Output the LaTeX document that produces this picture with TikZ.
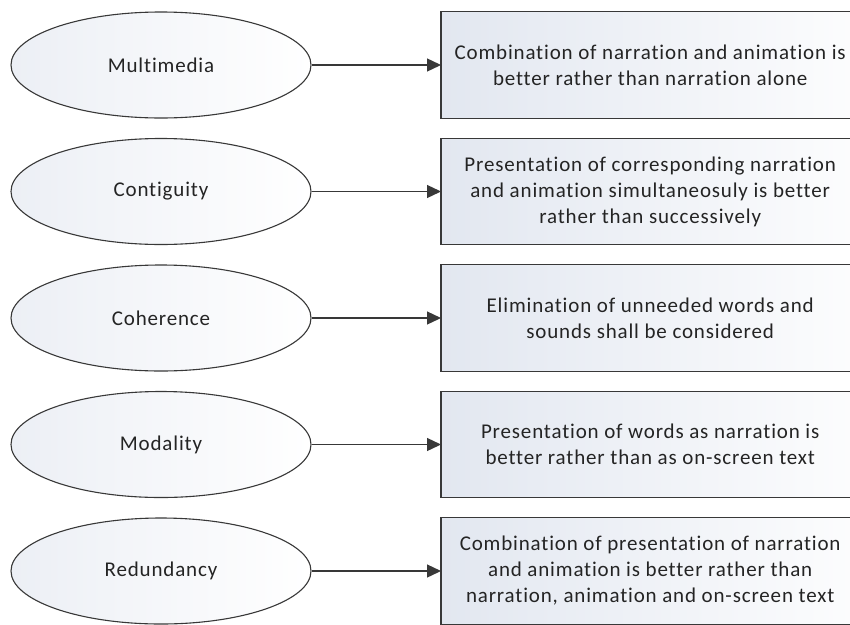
\documentclass[tikz,border=0pt]{standalone}
\usepackage{fontspec}
\setmainfont{Carlito}[LetterSpace=4.0,Ligatures=NoCommon]
\usetikzlibrary{arrows.meta,shapes.geometric,backgrounds}
\definecolor{linegray}{HTML}{383838}
\definecolor{txtgray}{HTML}{242424}
\definecolor{boxleft}{HTML}{E2E7F0}
\definecolor{ellleft}{HTML}{ECEFF5}
\tikzset{
  principle/.style={ellipse, draw=linegray, line width=1.1pt, minimum width=300pt, minimum height=106pt, inner sep=0pt,
    left color=ellleft, right color=white, text=txtgray, font=\fontsize{21}{26}\selectfont},
  descbox/.style={rectangle, minimum width=418pt, minimum height=106pt, inner sep=0pt,
    anchor=west, text=txtgray, align=center, font=\fontsize{21}{26}\selectfont},
  boxframe/.style={draw=linegray, line width=1.2pt, left color=boxleft, right color=white},
  link/.style={draw=linegray, line width=1.3pt, -{Triangle[length=14pt,width=13pt]}}
}
\begin{document}
\begin{tikzpicture}[x=1pt,y=-1pt]
\useasboundingbox (0,0) rectangle (850,624);
\clip (0,0) rectangle (850,624);
\node[principle] (e1) at (161,65) {Multimedia};
\node[principle] (e2) at (161,191.5) {Contiguity};
\node[principle] (e3) at (161,318) {Coherence};
\node[principle] (e4) at (161,444.5) {Modality};
\node[principle] (e5) at (161,571) {Redundancy};
\node[descbox] (b1) at (441,65) {Combination of narration and animation is\\better rather than narration alone};
\node[descbox] (b2) at (441,191.5) {Presentation of corresponding narration\\and animation simultaneosuly is better\\rather than successively};
\node[descbox] (b3) at (441,318) {Elimination of unneeded words and\\sounds shall be considered};
\node[descbox] (b4) at (441,444.5) {Presentation of words as narration is\\better rather than as on-screen text};
\node[descbox] (b5) at (441,571) {Combination of presentation of narration\\and animation is better rather than\\narration, animation and on-screen text};
\begin{scope}[on background layer]
\fill[white] (0,0) rectangle (850,624);
\foreach \b in {b1,b2,b3,b4,b5}{
  \path[boxframe] (\b.north west) rectangle ([xshift=40pt]\b.south east);
}
\end{scope}
\draw[link] (e1) -- (b1);
\draw[link] (e2) -- (b2);
\draw[link] (e3) -- (b3);
\draw[link] (e4) -- (b4);
\draw[link] (e5) -- (b5);
\end{tikzpicture}
\end{document}
